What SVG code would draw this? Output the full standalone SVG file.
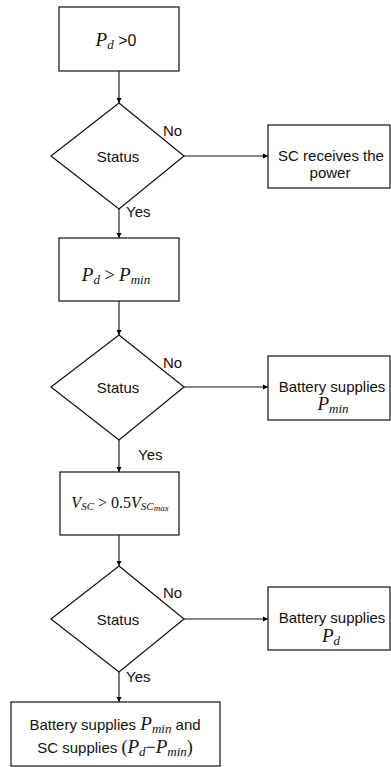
<svg xmlns="http://www.w3.org/2000/svg" width="391" height="767" viewBox="0 0 391 767">
<defs>
<marker id="ah" markerWidth="6" markerHeight="6" refX="5" refY="3" orient="auto" markerUnits="userSpaceOnUse">
<path d="M0,0.5 L5,3 L0,5.5 Z" fill="#000"/>
</marker>
<style>
.box{fill:#fff;stroke:#111;stroke-width:1.2}
.con{fill:none;stroke:#111;stroke-width:1.1;marker-end:url(#ah)}
.t{font-family:"Liberation Sans",Arial,sans-serif;font-size:15px;fill:#111;text-anchor:middle}
.lbl{font-family:"Liberation Sans",Arial,sans-serif;font-size:15px;fill:#111}
.m{font-family:"Liberation Serif","Times New Roman",serif;font-style:italic;font-size:19px}
.s{font-family:"Liberation Serif","Times New Roman",serif;font-style:italic;font-size:13px}
.n{font-family:"Liberation Serif","Times New Roman",serif;font-size:18px}
</style>
</defs>
<rect width="391" height="767" fill="#fff"/>
<g id="connectors">
<line class="con" x1="119" y1="71" x2="119" y2="103"/>
<line class="con" x1="184" y1="156" x2="268" y2="156"/>
<line class="con" x1="119" y1="209" x2="119" y2="238"/>
<line class="con" x1="119" y1="301" x2="119" y2="335"/>
<line class="con" x1="184" y1="387" x2="268" y2="387"/>
<line class="con" x1="119" y1="440" x2="119" y2="472"/>
<line class="con" x1="119" y1="535" x2="119" y2="566"/>
<line class="con" x1="184" y1="619" x2="268" y2="619"/>
<line class="con" x1="119" y1="672" x2="119" y2="702"/>
<text class="lbl" x="163" y="136">No</text>
<text class="lbl" x="126" y="217">Yes</text>
<text class="lbl" x="163" y="368">No</text>
<text class="lbl" x="138" y="460">Yes</text>
<text class="lbl" x="163" y="598">No</text>
<text class="lbl" x="126" y="682">Yes</text>
</g>
<g id="n1">
<rect class="box" x="59" y="7" width="120" height="64"/>
<text class="t" x="116" y="46"><tspan class="m">P</tspan><tspan class="s" dy="3">d</tspan><tspan dy="-3" style="font-size:16px"> &gt;0</tspan></text>
</g>
<g id="d1">
<polygon class="box" points="119,103 184,156 119,209 51,156"/>
<text class="t" x="118" y="162">Status</text>
</g>
<g id="r1">
<rect class="box" x="268" y="125" width="122" height="63"/>
<text class="t" x="331" y="161">SC receives the</text>
<text class="t" x="330" y="178">power</text>
</g>
<g id="n2">
<rect class="box" x="59" y="238" width="120" height="63"/>
<text class="t" x="116" y="281"><tspan class="m">P</tspan><tspan class="s" dy="3">d</tspan><tspan class="n" dy="-3"> &gt; </tspan><tspan class="m">P</tspan><tspan class="s" dy="3">min</tspan></text>
</g>
<g id="d2">
<polygon class="box" points="119,335 184,387 119,440 51,387"/>
<text class="t" x="118" y="393">Status</text>
</g>
<g id="r2">
<rect class="box" x="268" y="356" width="122" height="64"/>
<text class="t" x="332" y="392">Battery supplies</text>
<text class="t" x="333" y="410"><tspan class="m">P</tspan><tspan class="s" dy="3">min</tspan></text>
</g>
<g id="n3">
<rect class="box" x="60" y="472" width="119" height="63"/>
<text class="t" x="120" y="508"><tspan class="m" style="font-size:16px">V</tspan><tspan class="s" style="font-size:11px" dy="2">SC</tspan><tspan class="n" style="font-size:16px" dy="-2"> &gt; 0.5</tspan><tspan class="m" style="font-size:16px">V</tspan><tspan class="s" style="font-size:11px" dy="2">SC</tspan><tspan class="s" style="font-size:9px" dy="1">max</tspan></text>
</g>
<g id="d3">
<polygon class="box" points="119,566 184,619 119,672 51,619"/>
<text class="t" x="118" y="625">Status</text>
</g>
<g id="r3">
<rect class="box" x="268" y="587" width="122" height="63"/>
<text class="t" x="332" y="623">Battery supplies</text>
<text class="t" x="331" y="642"><tspan class="m">P</tspan><tspan class="s" dy="3">d</tspan></text>
</g>
<g id="n4">
<rect class="box" x="11" y="702" width="209" height="64"/>
<text class="t" x="115" y="730">Battery supplies <tspan class="m">P</tspan><tspan class="s" dy="3">min</tspan><tspan dy="-3"> and</tspan></text>
<text class="t" x="115" y="753">SC supplies <tspan class="n">(</tspan><tspan class="m">P</tspan><tspan class="s" dy="3">d</tspan><tspan class="n" dy="-3">−</tspan><tspan class="m">P</tspan><tspan class="s" dy="3">min</tspan><tspan class="n" dy="-3">)</tspan></text>
</g>
</svg>
